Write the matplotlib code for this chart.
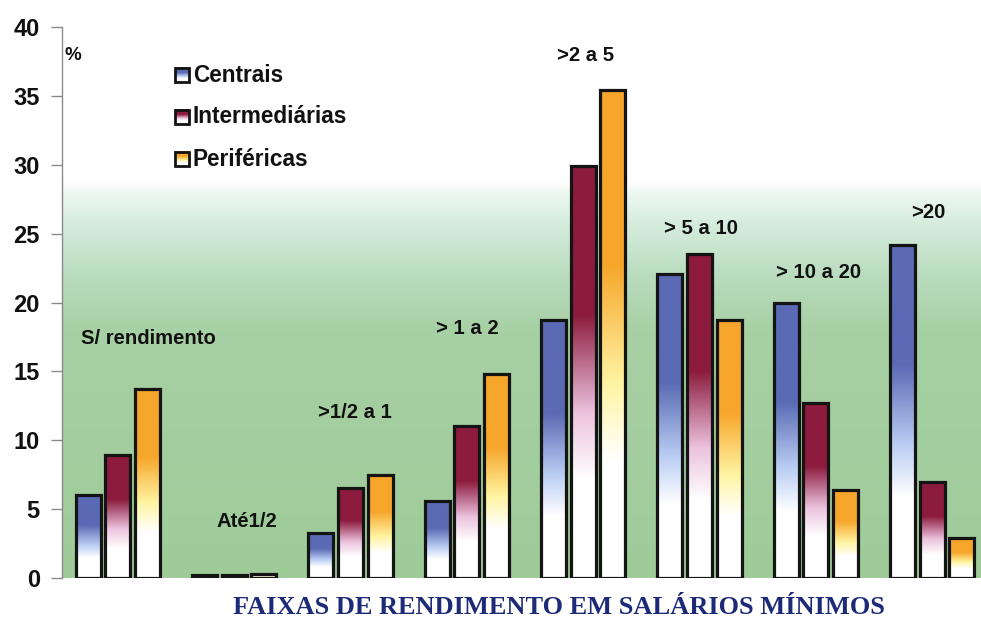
import numpy as np
import matplotlib
matplotlib.use("Agg")
import matplotlib.pyplot as plt
from matplotlib.colors import to_rgb
from matplotlib.patches import Rectangle

# Income bands (minimum wages) and share of households (%) per area type
categories = ["S/ rendimento", "Até1/2", ">1/2 a 1", "> 1 a 2",
              ">2 a 5", "> 5 a 10", "> 10 a 20", ">20"]
series_names = ["Centrais", "Intermediárias", "Periféricas"]
centrais = [6.0, 0.2, 3.3, 5.6, 18.7, 22.1, 20.0, 24.2]
intermediarias = [8.9, 0.2, 6.5, 11.0, 29.9, 23.5, 12.7, 7.0]
perifericas = [13.7, 0.3, 7.5, 14.8, 35.4, 18.7, 6.4, 2.9]
yticks = [0, 5, 10, 15, 20, 25, 30, 35, 40]

# Label positions (group x, height) for the band names
label_x = [0.26, 1.11, 2.04, 3.0, 4.02, 5.01, 6.02, 6.97]
label_y = [17.4, 4.1, 12.0, 18.1, 37.9, 25.4, 22.2, 26.5]

# Colour ramps: white -> tint -> full colour
ramps = [
    ("#ffffff", "#b9cdf3", "#5a6ab4"),
    ("#ffffff", "#ecc3de", "#8c1b3e"),
    ("#ffffff", "#fff4a2", "#f6a62b"),
]


def ramp_image(stops, n=256):
    white, tint, full = (np.array(to_rgb(c)) for c in stops)
    f = np.linspace(0, 1, n)
    pos = [0.0, 0.24, 0.40, 0.64, 1.0]
    cols = [white, white, tint, full, full]
    img = np.zeros((n, 1, 3))
    for k in range(3):
        img[:, 0, k] = np.interp(f, pos, [c[k] for c in cols])
    return img


def background_image(n=400):
    v = np.linspace(0, 40, n)
    pos = [0, 18, 22, 25.5, 28.0, 28.9, 40]
    cols = ["#9fcb99", "#a7d0a4", "#badcbe", "#d3ebdb", "#eef8f3", "#ffffff", "#ffffff"]
    rgb = [to_rgb(c) for c in cols]
    img = np.zeros((n, 1, 3))
    for k in range(3):
        img[:, 0, k] = np.interp(v, pos, [c[k] for c in rgb])
    return img


fig = plt.figure(figsize=(9.81, 6.23), dpi=100)
fig.patch.set_facecolor("white")
ax = fig.add_axes([62 / 981, 45 / 623, 1 - 62 / 981, (578 - 27) / 623])

xmin, xmax = -0.48, 7.42
ymin, ymax = 0, 40

ax.imshow(background_image(), extent=[xmin, xmax, 0, 40], origin="lower",
          aspect="auto", zorder=0, interpolation="bilinear")

x = np.arange(len(categories))
offsets = [-0.255, 0.0, 0.255]
width = 0.215
all_series = [centrais, intermediarias, perifericas]

for vals, off, stops in zip(all_series, offsets, ramps):
    bars = ax.bar(x + off, vals, width=width, facecolor="none",
                  edgecolor="#141414", linewidth=2.3, zorder=3)
    img = ramp_image(stops)
    for p in bars.patches:
        x0, w, h = p.get_x(), p.get_width(), p.get_height()
        ax.imshow(img, extent=[x0, x0 + w, 0, h], origin="lower",
                  aspect="auto", zorder=2, interpolation="bilinear")

# Band labels
for lx, ly, txt in zip(label_x, label_y, categories):
    ax.text(lx, ly, txt, ha="center", va="center", fontsize=14.6,
            fontweight="bold", family="Liberation Sans", color="#111111",
            zorder=4)

# Legend drawn as gradient swatches
leg_y = [36.5, 33.5, 30.4]
sw_w, sw_h = 0.12, 1.02
for ly, name, stops in zip(leg_y, series_names, ramps):
    ax.imshow(ramp_image(stops), extent=[0.49, 0.49 + sw_w, ly - sw_h / 2, ly + sw_h / 2],
              origin="lower", aspect="auto", zorder=4)
    ax.add_patch(Rectangle((0.49, ly - sw_h / 2), sw_w, sw_h, fill=False,
                           edgecolor="#141414", linewidth=2.0, zorder=5))
    ax.text(0.645, ly, name, ha="left", va="center", fontsize=16.3,
            fontweight="bold", family="Liberation Sans", color="#111111",
            zorder=5)

ax.text(-0.455, 37.9, "%", ha="left", va="center", fontsize=13.5,
        fontweight="bold", family="Liberation Sans", color="#111111")

ax.set_xlim(xmin, xmax)
ax.set_ylim(ymin, ymax)
ax.set_yticks(yticks)
ax.set_yticklabels([str(t) for t in yticks], fontsize=17, fontweight="bold",
                   family="Liberation Sans", color="#111111")
ax.tick_params(axis="y", direction="out", length=8, width=1, color="#8a8a8a", pad=8)
ax.set_xticks([])
for side in ["top", "right", "bottom"]:
    ax.spines[side].set_visible(False)
ax.spines["left"].set_color("#8a8a8a")
ax.spines["left"].set_linewidth(1)

fig.text(559 / 981, 1 - 608 / 623, "FAIXAS DE RENDIMENTO EM SALÁRIOS MÍNIMOS",
         ha="center", va="center", fontsize=19, fontweight="bold",
         family="Liberation Serif", color="#1d2a77")

fig.savefig("out.png", dpi=100)
